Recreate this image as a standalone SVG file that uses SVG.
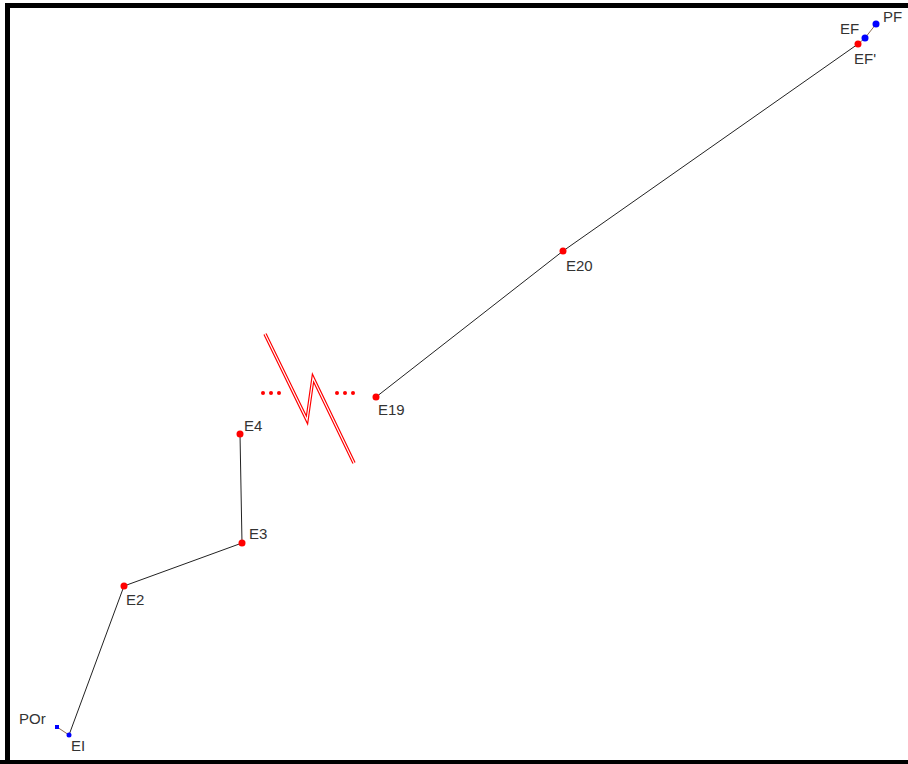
<svg xmlns="http://www.w3.org/2000/svg" width="908" height="764" viewBox="0 0 908 764">
<style>
.lbl{font-family:"Liberation Sans",Arial,sans-serif;font-size:15px;fill:#333}
.ln{stroke:#222;stroke-width:1;fill:none}
.br{stroke:#8a6a50;stroke-width:1;fill:none}
.rd{fill:#f00}
.bl{fill:#00f}
</style>
<rect x="0" y="0" width="908" height="764" fill="#fff"/>
<path d="M7.5,764 V5.5 H908" fill="none" stroke="#000" stroke-width="5"/>
<line x1="0" y1="762" x2="908" y2="762" stroke="#000" stroke-width="4"/>
<g id="connectors">
<polyline class="ln" points="69,735 124,586 242,543 240,434"/>
<polyline class="ln" points="376,397 563,251 858,44"/>
<line class="br" x1="57" y1="727" x2="69" y2="735"/>
<polyline class="br" points="858,44 865,38 876,24"/>
</g>
<g id="break">
<polyline points="265,334 307,420 313,378 354,463" fill="none" stroke="#f00" stroke-width="3.5"/>
<polyline points="265,334 307,420 313,378 354,463" fill="none" stroke="#fff" stroke-width="1.2"/>
<circle class="rd" cx="263" cy="393" r="2"/><circle class="rd" cx="271" cy="393" r="2"/><circle class="rd" cx="279" cy="393" r="2"/>
<circle class="rd" cx="337" cy="393" r="2"/><circle class="rd" cx="345" cy="393" r="2"/><circle class="rd" cx="353" cy="393" r="2"/>
</g>
<g id="POr"><rect class="bl" x="55" y="725" width="4" height="4"/><text class="lbl" x="19" y="724">POr</text></g>
<g id="EI"><circle class="bl" cx="69" cy="735" r="2.5"/><text class="lbl" x="71" y="751">EI</text></g>
<g id="E2"><circle class="rd" cx="124" cy="586" r="3.5"/><text class="lbl" x="126" y="605">E2</text></g>
<g id="E3"><circle class="rd" cx="242" cy="543" r="3.5"/><text class="lbl" x="249" y="539">E3</text></g>
<g id="E4"><circle class="rd" cx="240" cy="434" r="3.5"/><text class="lbl" x="244" y="431">E4</text></g>
<g id="E19"><circle class="rd" cx="376" cy="397" r="3.5"/><text class="lbl" x="378" y="415">E19</text></g>
<g id="E20"><circle class="rd" cx="563" cy="251" r="3.5"/><text class="lbl" x="566" y="271">E20</text></g>
<g id="EFp"><circle class="rd" cx="858" cy="44" r="3.5"/><text class="lbl" x="854" y="64">EF'</text></g>
<g id="EF"><circle class="bl" cx="865" cy="38" r="3.5"/><text class="lbl" x="840" y="34">EF</text></g>
<g id="PF"><circle class="bl" cx="876" cy="24" r="3.5"/><text class="lbl" x="883" y="22">PF</text></g>
</svg>
